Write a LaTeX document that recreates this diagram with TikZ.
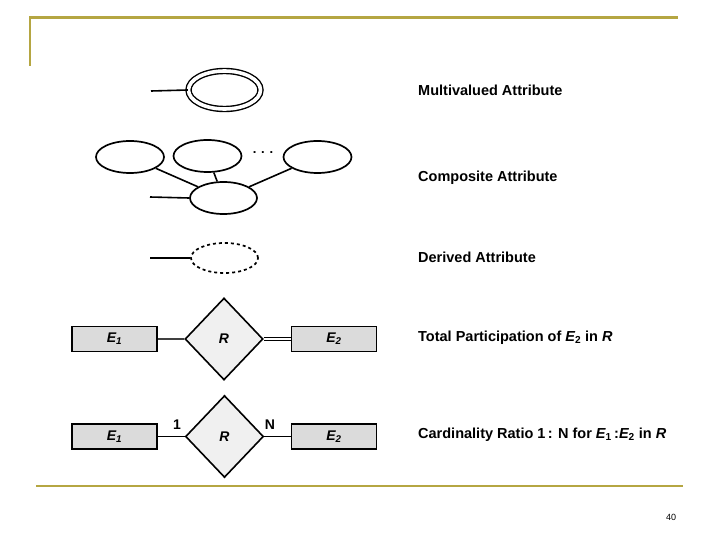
\documentclass[tikz,border=0pt]{standalone}
\usepackage{fontspec}
\setmainfont{Liberation Sans}
\usetikzlibrary{shapes.geometric}

\definecolor{framegold}{RGB}{181,166,66}

\begin{document}
\begin{tikzpicture}[x=1pt, y=-1pt,
    attr/.style={ellipse, draw, line width=1.7pt, inner sep=0pt,
        minimum width=68pt, minimum height=32pt},
    entity/.style={rectangle, draw, line width=1.6pt, fill=gray!28, inner sep=0pt,
        minimum width=85pt, minimum height=25pt,
        font=\bfseries\itshape\fontsize{14}{16}\selectfont},
    rel/.style={diamond, draw, line width=1.6pt, fill=gray!12, inner sep=0pt,
        minimum width=78pt, minimum height=82pt,
        font=\bfseries\itshape\fontsize{14}{16}\selectfont},
    caption/.style={anchor=west, inner sep=0pt, font=\bfseries\fontsize{14.5}{17}\selectfont},
    conn/.style={line width=1.6pt}]
    \useasboundingbox (0,0) rectangle (720,540);
    % slide frame
    \draw[framegold, line width=2.4pt] (30,66) -- (30,17.5) -- (678,17.5);
    \draw[framegold, line width=1.6pt] (36,486) -- (683,486);
    \node[font=\fontsize{9}{11}\selectfont] (page) at (671,517) {40};

    % multivalued attribute
    \node[attr, line width=1.4pt, double, double distance=3.6pt, minimum width=72pt, minimum height=38pt] (mva) at (224.5,90) {};
    \coordinate (mvaend) at (151,91);
    \draw[conn] (mvaend) -- (mva.west);

    % composite attribute
    \node[attr] (cpa) at (130,157) {};
    \node[attr] (cpb) at (207.5,156) {};
    \node[attr] (cpc) at (317.5,157) {};
    \node[font=\bfseries\fontsize{13}{15}\selectfont] (dots) at (263,153) {. . .};
    \node[attr, minimum width=67pt] (cp) at (223.5,198) {};
    \coordinate (cpend) at (150,197);
    \draw[conn] (cpend) -- (cp.west);
    \draw[conn] (cpa) -- (cp);
    \draw[conn] (cpb) -- (cp);
    \draw[conn] (cpc) -- (cp);

    % derived attribute
    \node[attr, dashed, minimum width=67pt, minimum height=30pt] (dva) at (224.5,258) {};
    \coordinate (dvaend) at (150,258);
    \draw[conn] (dvaend) -- (dva.west);

    % total participation
    \node[entity] (ea) at (114.5,339) {E\textsubscript{1}};
    \node[rel] (ra) at (224,339) {R};
    \node[entity] (eb) at (334,339) {E\textsubscript{2}};
    \draw[line width=1.3pt, black!75] (ea.east) -- (ra.west);
    \draw[line width=1.1pt, double, double distance=2.6pt] (ra.east) -- (eb.west);

    % cardinality ratio
    \node[entity] (ec) at (114.5,436.5) {E\textsubscript{1}};
    \node[rel] (rb) at (224.5,436.5) {R};
    \node[entity] (ed) at (334,436.5) {E\textsubscript{2}};
    \draw[conn] (ec.east) -- (rb.west);
    \draw[conn] (rb.east) -- (ed.west);
    \node[font=\bfseries\fontsize{14}{16}\selectfont] (one) at (177,425) {1};
    \node[font=\bfseries\fontsize{14}{16}\selectfont] (many) at (270,425) {N};

    % captions
    \node[caption] (cmva) at (418,90) {Multivalued Attribute};
    \node[caption] (ccp) at (418,178) {Composite Attribute};
    \node[caption] (cdva) at (418,257) {Derived Attribute};
    \node[caption] (ctot) at (418,338) {Total Participation of {\itshape E}\textsubscript{2} in {\itshape R}};
    \node[caption] (ccard) at (418,435) {Cardinality Ratio 1\,: N for {\itshape E}\textsubscript{1}\,:{\itshape E}\textsubscript{2} in {\itshape R}};
\end{tikzpicture}
\end{document}
